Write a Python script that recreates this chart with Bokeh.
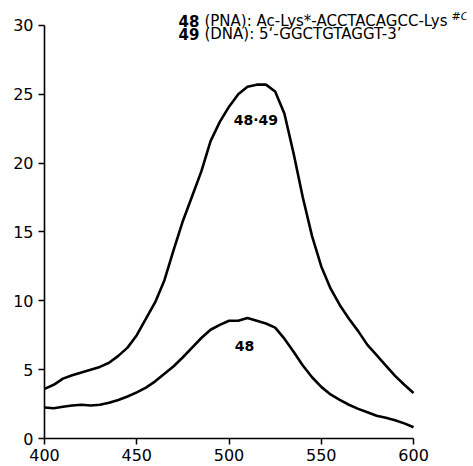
from bokeh.plotting import figure
from bokeh.models import Label, Range1d, FixedTicker
from bokeh.embed import file_html
from bokeh.resources import INLINE

# wavelength (nm)
wavelength = [400, 405, 410, 415, 420, 425, 430, 435, 440, 445, 450, 455, 460, 465, 470,
              475, 480, 485, 490, 495, 500, 505, 510, 515, 520, 525, 530, 535, 540, 545,
              550, 555, 560, 565, 570, 575, 580, 585, 590, 595, 600]

# 48·49 duplex
duplex = [3.6, 3.9, 4.35, 4.6, 4.8, 5.0, 5.2, 5.5, 6.0, 6.6, 7.5, 8.7, 9.9, 11.5, 13.7,
          15.8, 17.6, 19.4, 21.6, 23.0, 24.1, 25.0, 25.55, 25.7, 25.7, 25.2, 23.6, 20.7, 17.5, 14.7,
          12.5, 10.9, 9.7, 8.7, 7.8, 6.8, 6.05, 5.3, 4.55, 3.9, 3.3]

# 48 single strand
single = [2.25, 2.2, 2.3, 2.4, 2.45, 2.4, 2.45, 2.6, 2.8, 3.05, 3.35, 3.7, 4.15, 4.7, 5.25,
          5.9, 6.6, 7.3, 7.9, 8.25, 8.55, 8.55, 8.75, 8.55, 8.35, 8.05, 7.25, 6.3, 5.3, 4.45,
          3.75, 3.2, 2.8, 2.45, 2.15, 1.9, 1.65, 1.5, 1.33, 1.1, 0.82]

x_ticks = [400, 450, 500, 550, 600]
y_ticks = [0, 5, 10, 15, 20, 25, 30]

FONT = "DejaVu Sans"

p = figure(width=470, height=463, output_backend="svg", toolbar_location=None,
           x_range=Range1d(400, 628.7), y_range=Range1d(0, 31.45),
           min_border_left=44, min_border_right=4, min_border_top=5, min_border_bottom=10)
p.outline_line_color = None
p.grid.visible = False
p.background_fill_color = "white"

for ax in (p.xaxis[0], p.yaxis[0]):
    ax.axis_line_width = 1.6
    ax.axis_line_color = "black"
    ax.major_tick_line_color = "black"
    ax.major_tick_line_width = 1.5
    ax.major_tick_in = 0
    ax.major_tick_out = 6
    ax.minor_tick_line_color = None
    ax.major_label_text_font = FONT
    ax.major_label_text_font_size = "16px"
    ax.major_label_text_color = "black"
p.xaxis[0].ticker = FixedTicker(ticks=x_ticks)
p.yaxis[0].ticker = FixedTicker(ticks=y_ticks)
p.xaxis[0].bounds = (400, 600)
p.yaxis[0].bounds = (0, 30)
p.xaxis[0].major_label_standoff = 4
p.yaxis[0].major_label_standoff = 5

p.line(wavelength, duplex, line_color="black", line_width=2.6)
p.line(wavelength, single, line_color="black", line_width=2.6)

# curve labels
p.add_layout(Label(x=514.6, y=23.1, text="48\u00b749", text_font=FONT, text_font_size="14px",
                   text_font_style="bold", text_align="center", text_baseline="middle",
                   text_color="black"))
p.add_layout(Label(x=508.4, y=6.75, text="48", text_font=FONT, text_font_size="14px",
                   text_font_style="bold", text_align="center", text_baseline="middle",
                   text_color="black"))

# legend text
x0 = 472.6
l1, l2 = 30.36, 29.41
p.add_layout(Label(x=x0, y=l1, text="48", text_font=FONT, text_font_size="15px",
                   text_font_style="bold", text_baseline="middle", text_color="black"))
p.add_layout(Label(x=x0, y=l1, x_offset=26, text="(PNA): Ac-Lys*-ACCTACAGCC-Lys",
                   text_font=FONT, text_font_size="15px", text_baseline="middle",
                   text_color="black"))
p.add_layout(Label(x=x0, y=l1, x_offset=273, y_offset=4, text="#C", text_font=FONT,
                   text_font_size="11px", text_font_style="italic", text_baseline="middle",
                   text_color="black"))
p.add_layout(Label(x=x0, y=l2, text="49", text_font=FONT, text_font_size="15px",
                   text_font_style="bold", text_baseline="middle", text_color="black"))
p.add_layout(Label(x=x0, y=l2, x_offset=26, text="(DNA): 5\u2018-GGCTGTAGGT-3\u2019",
                   text_font=FONT, text_font_size="15px", text_baseline="middle",
                   text_color="black"))

open("out.html", "w").write(file_html(p, INLINE))
